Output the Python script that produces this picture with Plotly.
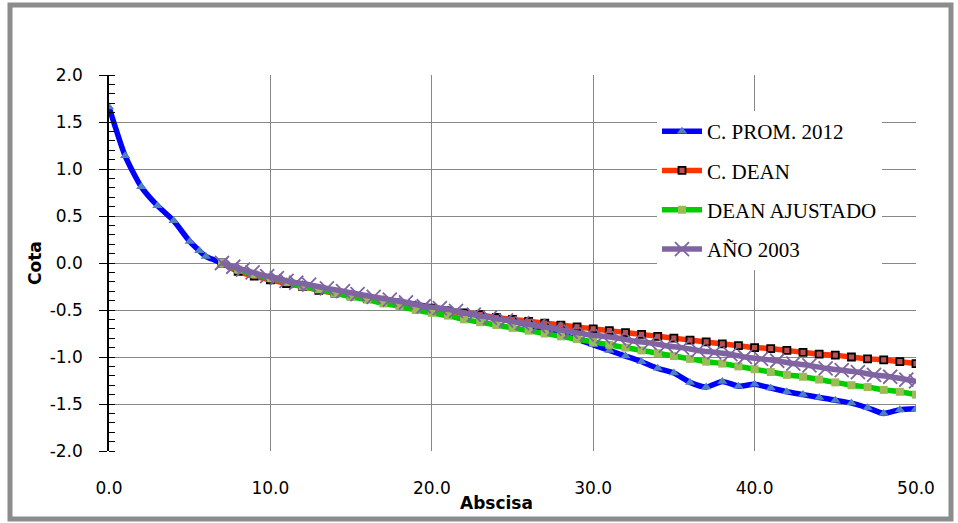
import plotly.graph_objects as go

# ---------------- data ----------------
x_prom = [0, 1, 2, 3, 4, 5, 5.6, 6, 7, 8, 9, 10, 11, 12, 13, 14, 15, 16, 17, 18, 19, 20,
          21, 22, 23, 24, 25, 26, 27, 28, 29, 30, 31, 32, 33, 34, 35, 36, 37, 38, 39, 40,
          41, 42, 43, 44, 45, 46, 47, 48, 49, 50]
y_prom = [1.66, 1.14, 0.81, 0.61, 0.45, 0.23, 0.13, 0.07, 0.00, -0.07, -0.12, -0.16, -0.20,
          -0.23, -0.27, -0.30, -0.33, -0.36, -0.39, -0.41, -0.44, -0.47, -0.50, -0.53, -0.56,
          -0.59, -0.62, -0.66, -0.71, -0.76, -0.81, -0.87, -0.93, -0.99, -1.05, -1.12, -1.17,
          -1.27, -1.32, -1.26, -1.31, -1.29, -1.33, -1.37, -1.40, -1.43, -1.46, -1.49, -1.54,
          -1.60, -1.56, -1.55]

x_dean = [7, 8, 9, 10, 11, 12, 13, 14, 15, 16, 17, 18, 19, 20, 21, 22, 23, 24, 25, 26, 27,
          28, 29, 30, 31, 32, 33, 34, 35, 36, 37, 38, 39, 40, 41, 42, 43, 44, 45, 46, 47, 48,
          49, 50]
y_dean = [0.00, -0.09, -0.14, -0.18, -0.22, -0.25, -0.29, -0.32, -0.35, -0.38, -0.40, -0.43,
          -0.46, -0.48, -0.51, -0.53, -0.55, -0.58, -0.60, -0.62, -0.64, -0.66, -0.68, -0.70,
          -0.72, -0.74, -0.76, -0.78, -0.80, -0.82, -0.84, -0.86, -0.88, -0.90, -0.91, -0.93,
          -0.95, -0.97, -0.98, -1.00, -1.02, -1.03, -1.05, -1.07]

x_ajust = x_dean
y_ajust = [0.00, -0.07, -0.12, -0.16, -0.20, -0.25, -0.28, -0.32, -0.36, -0.39, -0.43, -0.46,
           -0.50, -0.53, -0.56, -0.60, -0.63, -0.66, -0.69, -0.72, -0.75, -0.78, -0.81, -0.84,
           -0.87, -0.90, -0.93, -0.96, -0.99, -1.02, -1.05, -1.07, -1.10, -1.13, -1.16, -1.19,
           -1.21, -1.24, -1.27, -1.30, -1.32, -1.35, -1.37, -1.40]

x_2003 = [7.0, 7.7, 8.3, 8.9, 9.8, 10.4, 11.0, 11.6, 12.4, 13.5, 14.5, 15.4, 16.4, 17.4, 18.4,
          19.5, 20.5, 21.5, 22.6, 23.6, 24.6, 25.6, 26.6, 27.6, 28.6, 29.6, 30.6, 31.6, 32.5,
          33.5, 34.5, 35.5, 36.5, 37.5, 38.5, 39.4, 40.4, 41.4, 42.4, 43.4, 44.4, 45.4, 46.4,
          47.4, 48.4, 49.4, 50.0]
y_2003 = [0.00, -0.04, -0.07, -0.10, -0.14, -0.16, -0.19, -0.21, -0.23, -0.27, -0.30, -0.33,
          -0.36, -0.39, -0.42, -0.46, -0.48, -0.51, -0.55, -0.58, -0.61, -0.64, -0.67, -0.70,
          -0.73, -0.76, -0.78, -0.80, -0.83, -0.85, -0.88, -0.90, -0.93, -0.95, -0.97, -1.00,
          -1.02, -1.04, -1.07, -1.09, -1.12, -1.14, -1.16, -1.19, -1.21, -1.24, -1.26]

series_names = ["C. PROM. 2012", "C. DEAN", "DEAN AJUSTADO", "AÑO 2003"]
x_ticks = [0, 10, 20, 30, 40, 50]
x_labels = ["0.0", "10.0", "20.0", "30.0", "40.0", "50.0"]
y_ticks = [-2.0, -1.5, -1.0, -0.5, 0.0, 0.5, 1.0, 1.5, 2.0]
y_labels = ["-2.0", "-1.5", "-1.0", "-0.5", "0.0", "0.5", "1.0", "1.5", "2.0"]

# ---------------- layout geometry ----------------
W, H = 958, 523
L, R, T, B = 109, 916, 75, 451


def px_x(p):
    return (p - L) / (R - L)


def px_y(p):
    return (B - p) / (B - T)


fig = go.Figure()

fig.add_trace(go.Scatter(
    x=x_prom, y=y_prom, name=series_names[0], mode="lines+markers", legendgroup="a",
    line=dict(color="#0000FF", width=5.5, shape="spline", smoothing=0.6),
    marker=dict(symbol="triangle-up", size=9, color="#4F81BD"),
))
fig.add_trace(go.Scatter(
    x=x_dean, y=y_dean, name=series_names[1], mode="lines+markers", legendgroup="b",
    line=dict(color="#FF3300", width=5.5, shape="spline", smoothing=0.6),
    marker=dict(symbol="square", size=7, color="#C0504D", line=dict(color="black", width=1.8)),
))
fig.add_trace(go.Scatter(
    x=x_ajust, y=y_ajust, name=series_names[2], mode="lines+markers", legendgroup="c",
    line=dict(color="#00CC00", width=5.5, shape="spline", smoothing=0.6),
    marker=dict(symbol="square", size=8, color="#9BBB59"),
))
fig.add_trace(go.Scatter(
    x=x_2003, y=y_2003, name=series_names[3], mode="lines+markers", legendgroup="d",
    line=dict(color="#8064A2", width=5.5, shape="spline", smoothing=0.6),
    marker=dict(symbol="x-thin", size=14, color="#8064A2", line=dict(color="#8064A2", width=1.8)),
))

grid_col = "#878787"
fig.update_xaxes(
    range=[0, 50], tickvals=x_ticks, ticktext=x_labels,
    showgrid=True, gridcolor=grid_col, gridwidth=1.4, zeroline=False,
    showline=False, ticks="", ticklabelstandoff=25,
    tickfont=dict(family="DejaVu Sans", size=17, color="black"),
)
fig.update_yaxes(
    range=[-2, 2], tickvals=y_ticks, ticktext=y_labels,
    showgrid=True, gridcolor=grid_col, gridwidth=1.4, zeroline=False,
    showline=True, linecolor="black", linewidth=1.6,
    ticks="outside", ticklen=8, tickcolor="black", tickwidth=1.4, ticklabelstandoff=13,
    minor=dict(dtick=0.1, ticks="inside", ticklen=6, tickcolor="black", tickwidth=1.2, showgrid=False),
    tickfont=dict(family="DejaVu Sans", size=17, color="black"),
)

fig.add_shape(type="rect", xref="paper", yref="paper",
              x0=px_x(10), x1=px_x(951), y0=px_y(519), y1=px_y(5),
              line=dict(color="#8C8C8C", width=5), fillcolor="rgba(0,0,0,0)", layer="above")

fig.add_annotation(text="<b>Abscisa</b>", xref="paper", yref="paper",
                   x=px_x(496), y=px_y(503), xanchor="center", yanchor="middle", showarrow=False,
                   font=dict(family="DejaVu Sans", size=17, color="black"))
fig.add_annotation(text="<b>Cota</b>", xref="paper", yref="paper",
                   x=px_x(35), y=px_y(263), xanchor="center", yanchor="middle", showarrow=False,
                   textangle=-90,
                   font=dict(family="DejaVu Sans", size=17, color="black"))

fig.update_layout(
    width=W, height=H,
    margin=dict(l=L, r=W - R, t=T, b=H - B),
    paper_bgcolor="white", plot_bgcolor="white",
    showlegend=True,
    legend=dict(
        x=px_x(657), y=px_y(111), xanchor="left", yanchor="top",
        bgcolor="white", borderwidth=0, tracegroupgap=9,
        font=dict(family="Liberation Serif", size=21, color="black"),
        itemwidth=40,
    ),
)

fig.write_html("out.html")
